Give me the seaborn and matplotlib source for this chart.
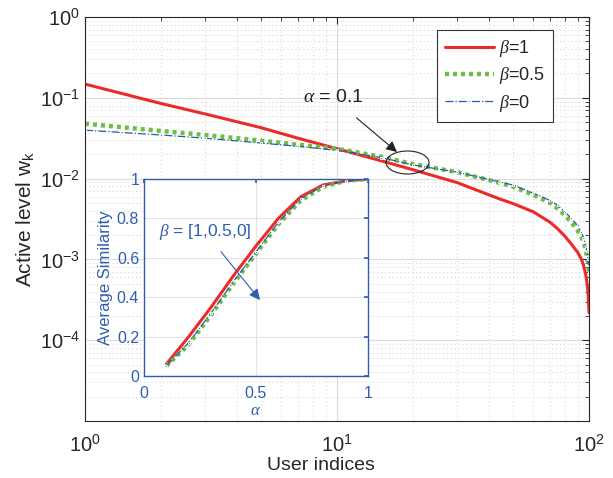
import numpy as np
import pandas as pd
import seaborn as sns
import matplotlib
matplotlib.use("Agg")
import matplotlib.pyplot as plt
from matplotlib.patches import Ellipse
from matplotlib.ticker import LogLocator, NullFormatter, FixedLocator

sns.set_theme(style="white")
plt.rcParams['font.family'] = ['Liberation Sans', 'DejaVu Sans']
plt.rcParams['mathtext.fontset'] = 'custom'
plt.rcParams['mathtext.rm'] = 'Liberation Sans'
plt.rcParams['mathtext.it'] = 'Liberation Serif:italic'
plt.rcParams['mathtext.bf'] = 'Liberation Sans:bold'

# ---- data: main plot (user index k vs active level, log10)
k_idx = [1, 2, 3, 5, 7, 10, 15, 20, 30, 44, 50, 60, 70, 75, 80, 85, 90, 93, 95, 97, 98, 99, 100]
log_w_b1 = [-0.83, -1.07, -1.20, -1.37, -1.50, -1.63, -1.78, -1.89, -2.05, -2.25, -2.31, -2.41,
            -2.54, -2.62, -2.71, -2.81, -2.91, -2.99, -3.07, -3.19, -3.28, -3.40, -3.66]
log_w_b05 = [-1.32, -1.41, -1.46, -1.53, -1.58, -1.63, -1.73, -1.82, -1.92, -2.05, -2.10, -2.20,
             -2.30, -2.37, -2.45, -2.54, -2.64, -2.72, -2.79, -2.88, -2.95, -3.03, -3.15]
log_w_b0 = [-1.40, -1.46, -1.50, -1.56, -1.60, -1.65, -1.74, -1.83, -1.92, -2.04, -2.08, -2.18,
            -2.27, -2.33, -2.41, -2.49, -2.58, -2.66, -2.73, -2.83, -2.90, -3.00, -3.16]

# ---- data: inset (alpha vs average similarity)
alpha = [0.1, 0.2, 0.3, 0.4, 0.5, 0.6, 0.7, 0.8, 0.9, 1.0]
sim_b1 = [0.06, 0.20, 0.35, 0.51, 0.66, 0.80, 0.91, 0.97, 0.99, 1.0]
sim_b05 = [0.05, 0.16, 0.31, 0.47, 0.62, 0.77, 0.89, 0.96, 0.99, 1.0]
sim_b0 = [0.05, 0.17, 0.32, 0.48, 0.63, 0.78, 0.90, 0.965, 0.99, 1.0]

labels = [r'$\beta$=1', r'$\beta$=0.5', r'$\beta$=0']
RED, GREEN, BLUE = '#EC2A2A', '#6DBE45', '#2B5BA8'
INSET_COL = '#2F5DB0'
DARK = '#262626'

fig = plt.figure(figsize=(6.13, 4.78), dpi=100)
ax = fig.add_axes([0.1387, 0.1192, 0.8223, 0.8452])

w_b1 = 10 ** np.array(log_w_b1)
w_b05 = 10 ** np.array(log_w_b05)
w_b0 = 10 ** np.array(log_w_b0)

sns.lineplot(x=k_idx, y=w_b1, ax=ax, color=RED, linewidth=2.2, label=labels[0], sort=False)
sns.lineplot(x=k_idx, y=w_b05, ax=ax, color=GREEN, linewidth=3.2, linestyle=(0, (0.9, 0.9)),
             label=labels[1], sort=False)
sns.lineplot(x=k_idx, y=w_b0, ax=ax, color=BLUE, linewidth=0.9, linestyle='-.', marker='.',
             markersize=3, label=labels[2], sort=False)

ax.set_xscale('log')
ax.set_yscale('log')
ax.set_xlim(1, 100)
ax.set_ylim(1e-5, 1)
ax.yaxis.set_major_locator(FixedLocator([1e-4, 1e-3, 1e-2, 1e-1, 1e0]))
ax.yaxis.set_minor_locator(LogLocator(base=10, subs=np.arange(2, 10), numticks=20))
ax.yaxis.set_minor_formatter(NullFormatter())
ax.xaxis.set_minor_locator(LogLocator(base=10, subs=np.arange(2, 10), numticks=20))
ax.xaxis.set_minor_formatter(NullFormatter())
ax.grid(True, which='major', color='#dcdcdc', linewidth=0.8, linestyle='-')
ax.grid(True, which='minor', color='#d0d0d0', linewidth=0.7, linestyle=(0, (1, 3)))
ax.tick_params(which='both', direction='in', top=True, right=True, colors=DARK,
               labelsize=14.5, labelcolor=DARK)
ax.tick_params(axis='x', which='major', pad=9)
ax.tick_params(which='major', length=5, width=0.8)
ax.tick_params(which='minor', length=3, width=0.6)
for s in ax.spines.values():
    s.set_color(DARK)
    s.set_linewidth(0.8)
ax.set_xlabel('User indices', fontsize=14, color=DARK)
ax.xaxis.set_label_coords(0.468, -0.088)
ax.set_ylabel(r'Active level w$_\mathregular{k}$', fontsize=15, color=DARK)
ax.yaxis.set_label_coords(-0.097, 0.5)

leg = ax.legend(loc='upper right', bbox_to_anchor=(0.929, 0.968), fontsize=13,
                frameon=True, fancybox=False, edgecolor='#333333', framealpha=1,
                handlelength=2.7, borderpad=0.45, labelspacing=0.35, handletextpad=0.3,
                borderaxespad=0)
leg.get_frame().set_linewidth(0.8)

fig_h = 478
def px(x, y):
    return (x / 613, (fig_h - y) / fig_h)

# annotation alpha = 0.1
ell = Ellipse(px(407.5, 162.5), 43 / 613, 23 / 478, transform=fig.transFigure, fill=False,
              edgecolor='#222222', lw=0.8, zorder=10)
fig.patches.append(ell)
ax.annotate(r'$\alpha$ = 0.1', xy=px(397, 152), xycoords='figure fraction',
            xytext=px(333, 98), textcoords='figure fraction', fontsize=14,
            ha='center', va='center', color='#222222',
            arrowprops=dict(arrowstyle='-|>', color='#222222', lw=0.8,
                            shrinkA=9, shrinkB=0, mutation_scale=16))

# ---- inset
axi = fig.add_axes([0.2349, 0.2134, 0.3654, 0.4121])
axi.set_facecolor('white')
sns.lineplot(x=alpha, y=sim_b1, ax=axi, color=RED, linewidth=2.2, sort=False)
sns.lineplot(x=alpha, y=sim_b05, ax=axi, color=GREEN, linewidth=3.0, linestyle=(0, (0.9, 0.9)), sort=False)
sns.lineplot(x=alpha, y=sim_b0, ax=axi, color=BLUE, linewidth=0.9, linestyle='-.', marker='.',
             markersize=3, sort=False)
axi.set_xlim(0, 1)
axi.set_ylim(0, 1)
axi.set_xticks([0, 0.5, 1])
axi.set_xticklabels(['0', '0.5', '1'])
axi.set_yticks([0, 0.2, 0.4, 0.6, 0.8, 1])
axi.set_yticklabels(['0', '0.2', '0.4', '0.6', '0.8', '1'])
axi.grid(True, color='#e2e2ea', linewidth=0.8)
axi.tick_params(direction='in', colors=INSET_COL, labelcolor=INSET_COL, labelsize=11.5,
                length=3, top=True, right=True)
axi.tick_params(axis='x', pad=7)
for s in axi.spines.values():
    s.set_color(INSET_COL)
    s.set_linewidth(1.0)
axi.set_xlabel(r'$\alpha$', fontsize=12, color=INSET_COL, labelpad=2)
axi.set_ylabel('Average Similarity', fontsize=12, color=INSET_COL, labelpad=3)
axi.annotate(r'$\beta$ = [1,0.5,0]', xy=px(260, 300), xycoords='figure fraction',
             xytext=px(205, 232), textcoords='figure fraction', fontsize=12.5,
             ha='center', va='center', color=INSET_COL,
             arrowprops=dict(arrowstyle='-|>', color=INSET_COL, lw=0.8,
                             shrinkA=6, shrinkB=0, mutation_scale=16))

fig.savefig('out.png', dpi=100)
